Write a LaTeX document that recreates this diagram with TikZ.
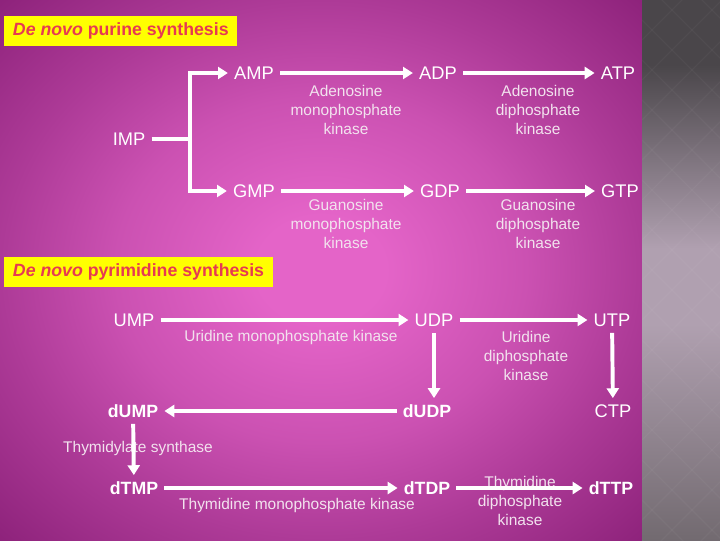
\documentclass[tikz,border=0pt]{standalone}
\usepackage{fontspec}
\setmainfont{Liberation Sans}
\usetikzlibrary{arrows.meta, positioning, calc}
\definecolor{bgPink}{HTML}{E464C8}
\definecolor{bgPurple}{HTML}{80186F}
\definecolor{panelTop}{HTML}{4A464A}
\definecolor{panelMid}{HTML}{B0A0B0}
\definecolor{panelBot}{HTML}{726A70}
\definecolor{titleYellow}{HTML}{FFFF00}
\definecolor{titleRed}{HTML}{E63A52}
\definecolor{enzText}{HTML}{F2E2EE}
\pgfdeclareradialshading{slidebg}{\pgfpoint{0bp}{0bp}}{color(0bp)=(bgPink); color(5bp)=(bgPink); color(16bp)=(bgPurple!25!bgPink); color(25bp)=(bgPurple!55!bgPink); color(36bp)=(bgPurple!88!bgPink); color(50bp)=(bgPurple)}
\pgfdeclareverticalshading{panelshade}{100bp}{color(0bp)=(panelBot); color(25bp)=(panelBot); color(45bp)=(panelMid); color(52bp)=(panelMid); color(69bp)=(panelTop); color(100bp)=(panelTop)}
\tikzset{
  met/.style={text=white, font=\fontsize{13}{15}\selectfont, text height=9.4pt, text depth=0pt,
    inner sep=2pt, outer sep=2.5pt},
  dmet/.style={met, font=\fontsize{12.6}{15}\selectfont\bfseries},
  enz/.style={text=enzText, font=\fontsize{11}{13.5}\selectfont, align=center, inner sep=0pt},
  titlebox/.style={fill=titleYellow, text=titleRed, font=\fontsize{12.6}{14}\selectfont\bfseries,
    anchor=north west, inner xsep=6.2pt, minimum height=21pt},
  flow/.style={line width=2.8pt, white, -{Triangle[length=7pt,width=8.5pt]}},
  link/.style={line width=2.8pt, white}
}
\begin{document}
\begin{tikzpicture}[x=0.025cm, y=-0.025cm]
  \useasboundingbox (0,0) rectangle (720,540);
  % slide background
  \shade[shading=slidebg] (0,0) rectangle (642,540);
  \shade[shading=panelshade] (642,0) rectangle (720,540);
  \begin{scope}
    \clip (642,0) rectangle (720,540);
    \foreach \k in {0,...,17} {
      \draw[white, opacity=0.035, line width=0.8pt] (642,-100+\k*40) -- ++(120,120);
      \draw[white, opacity=0.035, line width=0.8pt] (642,\k*40) -- ++(120,-120);
    }
  \end{scope}

  % section titles
  \node[titlebox] (purT) at (4,16) {\textit{De novo} purine synthesis};
  \node[titlebox] (pyrT) at (4,257) {\textit{De novo} pyrimidine synthesis};

  % purines
  \node[met] (imp) at (129,139) {IMP};
  \node[met] (amp) at (254,73) {AMP};
  \node[met] (adp) at (438,73) {ADP};
  \node[met] (atp) at (618,73) {ATP};
  \node[met] (gmp) at (254,191) {GMP};
  \node[met] (gdp) at (440,191) {GDP};
  \node[met] (gtp) at (620,191) {GTP};

  % pyrimidines
  \node[met] (ump) at (134,320) {UMP};
  \node[met] (udp) at (434,320) {UDP};
  \node[met] (utp) at (612,320) {UTP};
  \node[dmet] (dump) at (133,411) {dUMP};
  \node[dmet] (dudp) at (427,411) {dUDP};
  \node[met] (ctp) at (613,411) {CTP};
  \node[dmet] (dtmp) at (134,488) {dTMP};
  \node[dmet] (dtdp) at (427,488) {dTDP};
  \node[dmet] (dttp) at (611,488) {dTTP};

  % enzymes
  \node[enz] (amk) at (346,110) {Adenosine\\monophosphate\\kinase};
  \node[enz] (adk) at (538,110) {Adenosine\\diphosphate\\kinase};
  \node[enz] (gmk) at (346,224) {Guanosine\\monophosphate\\kinase};
  \node[enz] (gdk) at (538,224) {Guanosine\\diphosphate\\kinase};
  \node[enz] (umk) at (291,337) {Uridine monophosphate kinase};
  \node[enz] (udk) at (526,356) {Uridine\\diphosphate\\kinase};
  \node[enz] (tsyn) at (138,448) {Thymidylate synthase};
  \node[enz] (tmk) at (297,505) {Thymidine monophosphate kinase};
  \node[enz] (tdk) at (520,501) {Thymidine\\diphosphate\\kinase};

  % reactions
  \coordinate (fork) at (190,139);
  \draw[link] (imp) -- (fork);
  \draw[flow] (fork) |- (amp);
  \draw[flow] (fork) |- (gmp);
  \draw[flow] (amp) -- (adp);
  \draw[flow] (adp) -- (atp);
  \draw[flow] (gmp) -- (gdp);
  \draw[flow] (gdp) -- (gtp);
  \draw[flow] (ump) -- (udp);
  \draw[flow] (udp) -- (utp);
  \draw[flow] (udp.south) -- (udp.south |- dudp.north);
  \draw[flow] (utp) -- (ctp);
  \draw[flow] (dudp) -- (dump);
  \draw[flow] (dump) -- (dtmp);
  \draw[flow] (dtmp) -- (dtdp);
  \draw[flow] (dtdp) -- (dttp);
\end{tikzpicture}
\end{document}
